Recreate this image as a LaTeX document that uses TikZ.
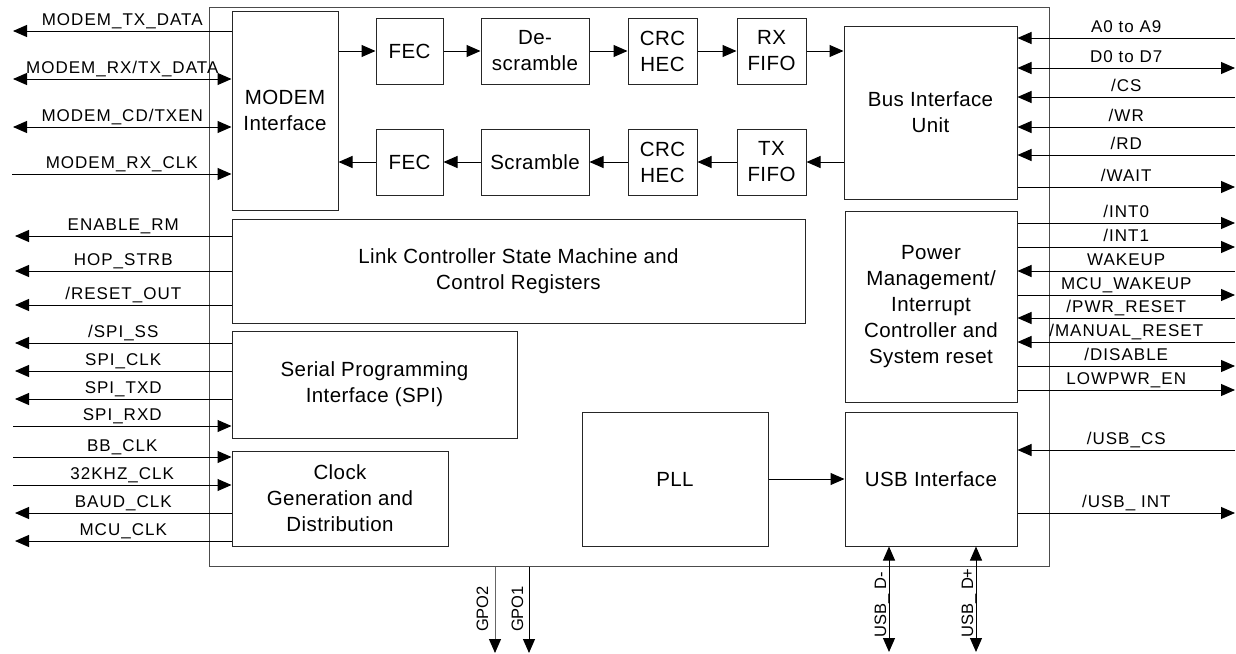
\documentclass[tikz,border=0pt]{standalone}
\usepackage{fontspec}
\setmainfont{Liberation Sans}
\newfontfamily\sigfont[LetterSpace=6]{Liberation Sans}
\newfontfamily\blkfont[LetterSpace=2]{Liberation Sans}
\usetikzlibrary{arrows.meta}
\begin{document}
\begin{tikzpicture}[x=1pt,y=-1pt,
  >={Triangle[length=14pt,width=12pt]},
  line width=1pt,
  blk/.style={draw=black!85, line width=1pt, inner sep=0pt, align=center,
    font=\blkfont\fontsize{20.5}{26}\selectfont},
  sig/.style={draw=black, line width=1pt},
  lbl/.style={midway, anchor=base, yshift=6pt, inner sep=0pt,
    font=\sigfont\fontsize{17}{18}\selectfont},
  vlbl/.style={rotate=90, anchor=base, inner sep=0pt,
    font=\fontsize{16.5}{18}\selectfont}]
\useasboundingbox (0,0) rectangle (1236,653);
% chip outline
\node[draw=black!70, line width=1pt, minimum width=840pt, minimum height=559pt, inner sep=0pt] (chip) at (629,286.5) {};
% blocks
\node[blk, minimum width=106pt, minimum height=199pt] (modem) at (285,110.5) {MODEM\\Interface};
\node[blk, minimum width=67pt, minimum height=66pt] (fecR) at (409.5,51) {FEC};
\node[blk, minimum width=108pt, minimum height=66pt] (desc) at (535,51) {De-\\scramble};
\node[blk, minimum width=69pt, minimum height=66pt] (crcR) at (662.5,51) {CRC\\HEC};
\node[blk, minimum width=69pt, minimum height=66pt] (rxf) at (771.5,51) {RX\\FIFO};
\node[blk, minimum width=173pt, minimum height=173pt] (bus) at (930.5,112.5) {Bus Interface\\Unit};
\node[blk, minimum width=67pt, minimum height=66pt] (fecT) at (409.5,162) {FEC};
\node[blk, minimum width=108pt, minimum height=66pt] (scr) at (535,162) {Scramble};
\node[blk, minimum width=69pt, minimum height=66pt] (crcT) at (662.5,162) {CRC\\HEC};
\node[blk, minimum width=69pt, minimum height=66pt] (txf) at (771.5,162) {TX\\FIFO};
\node[blk, minimum width=573pt, minimum height=104pt] (link) at (518.5,271) {Link Controller State Machine and\\Control Registers};
\node[blk, minimum width=285pt, minimum height=107pt] (spi) at (374.5,384.5) {Serial Programming\\Interface (SPI)};
\node[blk, minimum width=216pt, minimum height=95pt] (clk) at (340,498.5) {Clock\\Generation and\\Distribution};
\node[blk, minimum width=186pt, minimum height=134pt] (pll) at (675,479) {PLL};
\node[blk, minimum width=172pt, minimum height=191pt] (pwr) at (931,306.5) {Power\\Management/\\Interrupt\\Controller and\\System reset};
\node[blk, minimum width=172pt, minimum height=134pt] (usb) at (931,479) {USB Interface};
% internal data path
\draw[sig,->] (modem.east |- fecR) -- (fecR.west);
\draw[sig,->] (fecR.east) -- (desc.west);
\draw[sig,->] (desc.east) -- (crcR.west);
\draw[sig,->] (crcR.east) -- (rxf.west);
\draw[sig,->] (rxf.east) -- (bus.west |- rxf);
\draw[sig,->] (bus.west |- txf) -- (txf.east);
\draw[sig,->] (txf.west) -- (crcT.east);
\draw[sig,->] (crcT.west) -- (scr.east);
\draw[sig,->] (scr.west) -- (fecT.east);
\draw[sig,->] (fecT.west) -- (modem.east |- fecT);
\draw[sig,->] (pll.east) -- (usb.west);
% left signal ends
\coordinate (l1) at (13,31);
\coordinate (l2) at (13,79);
\coordinate (l3) at (13,127);
\coordinate (l4) at (12,174);
\coordinate (l5) at (15,236);
\coordinate (l6) at (15,271);
\coordinate (l7) at (15,305);
\coordinate (l8) at (15,343);
\coordinate (l9) at (15,371);
\coordinate (l10) at (15,399);
\coordinate (l11) at (13,426);
\coordinate (l12) at (13,457);
\coordinate (l13) at (13,485);
\coordinate (l14) at (15,513);
\coordinate (l15) at (15,541);
\draw[sig,<-] (l1) -- (l1 -| modem.west) node[lbl] {MODEM\_TX\_DATA};
\draw[sig,<->] (l2) -- (l2 -| modem.west) node[lbl] {MODEM\_RX/TX\_DATA};
\draw[sig,<->] (l3) -- (l3 -| modem.west) node[lbl] {MODEM\_CD/TXEN};
\draw[sig,->] (l4) -- (l4 -| modem.west) node[lbl] {MODEM\_RX\_CLK};
\draw[sig,<-] (l5) -- (l5 -| link.west) node[lbl] {ENABLE\_RM};
\draw[sig,<-] (l6) -- (l6 -| link.west) node[lbl] {HOP\_STRB};
\draw[sig,<-] (l7) -- (l7 -| link.west) node[lbl] {/RESET\_OUT};
\draw[sig,<-] (l8) -- (l8 -| spi.west) node[lbl] {/SPI\_SS};
\draw[sig,<-] (l9) -- (l9 -| spi.west) node[lbl] {SPI\_CLK};
\draw[sig,<-] (l10) -- (l10 -| spi.west) node[lbl] {SPI\_TXD};
\draw[sig,->] (l11) -- (l11 -| spi.west) node[lbl] {SPI\_RXD};
\draw[sig,->] (l12) -- (l12 -| clk.west) node[lbl] {BB\_CLK};
\draw[sig,->] (l13) -- (l13 -| clk.west) node[lbl] {32KHZ\_CLK};
\draw[sig,<-] (l14) -- (l14 -| clk.west) node[lbl] {BAUD\_CLK};
\draw[sig,<-] (l15) -- (l15 -| clk.west) node[lbl] {MCU\_CLK};
% right signal ends
\coordinate (r1) at (1235,38);
\coordinate (r2) at (1235,68);
\coordinate (r3) at (1235,97);
\coordinate (r4) at (1235,127);
\coordinate (r5) at (1235,155);
\coordinate (r6) at (1235,187);
\coordinate (r7) at (1235,223);
\coordinate (r8) at (1235,247);
\coordinate (r9) at (1235,271);
\coordinate (r10) at (1235,295);
\coordinate (r11) at (1235,318);
\coordinate (r12) at (1235,342);
\coordinate (r13) at (1235,366);
\coordinate (r14) at (1235,390);
\coordinate (r15) at (1235,450);
\coordinate (r16) at (1235,513);
\draw[sig,->] (r1) -- (r1 -| bus.east) node[lbl] {A0 to A9};
\draw[sig,<->] (r2) -- (r2 -| bus.east) node[lbl] {D0 to D7};
\draw[sig,->] (r3) -- (r3 -| bus.east) node[lbl] {/CS};
\draw[sig,->] (r4) -- (r4 -| bus.east) node[lbl] {/WR};
\draw[sig,->] (r5) -- (r5 -| bus.east) node[lbl] {/RD};
\draw[sig,<-] (r6) -- (r6 -| bus.east) node[lbl] {/WAIT};
\draw[sig,<-] (r7) -- (r7 -| pwr.east) node[lbl] {/INT0};
\draw[sig,<-] (r8) -- (r8 -| pwr.east) node[lbl] {/INT1};
\draw[sig,->] (r9) -- (r9 -| pwr.east) node[lbl] {WAKEUP};
\draw[sig,<-] (r10) -- (r10 -| pwr.east) node[lbl] {MCU\_WAKEUP};
\draw[sig,->] (r11) -- (r11 -| pwr.east) node[lbl] {/PWR\_RESET};
\draw[sig,->] (r12) -- (r12 -| pwr.east) node[lbl] {/MANUAL\_RESET};
\draw[sig,<-] (r13) -- (r13 -| pwr.east) node[lbl] {/DISABLE};
\draw[sig,<-] (r14) -- (r14 -| pwr.east) node[lbl] {LOWPWR\_EN};
\draw[sig,->] (r15) -- (r15 -| usb.east) node[lbl] {/USB\_CS};
\draw[sig,<-] (r16) -- (r16 -| usb.east) node[lbl] {/USB\_ INT};
% bottom signals
\coordinate (g2) at (495,653);
\coordinate (g1) at (529,653);
\coordinate (um) at (889,652);
\coordinate (up) at (976,652);
\draw[draw=black!60, line width=1pt, -{Triangle[length=14pt,width=12pt,color=black]}] (g2 |- chip.south) -- (g2);
\draw[sig,->] (g1 |- chip.south) -- (g1);
\draw[sig,<->] (um) -- (um |- usb.south);
\draw[sig,<->] (up) -- (up |- usb.south);
\node[vlbl] (tg2) at (488,609) {GPO2};
\node[vlbl] (tg1) at (523,609) {GPO1};
\node[vlbl] (tum) at (886,605) {USB\_ D-};
\node[vlbl] (tup) at (973,603) {USB\_ D+};
\end{tikzpicture}
\end{document}
